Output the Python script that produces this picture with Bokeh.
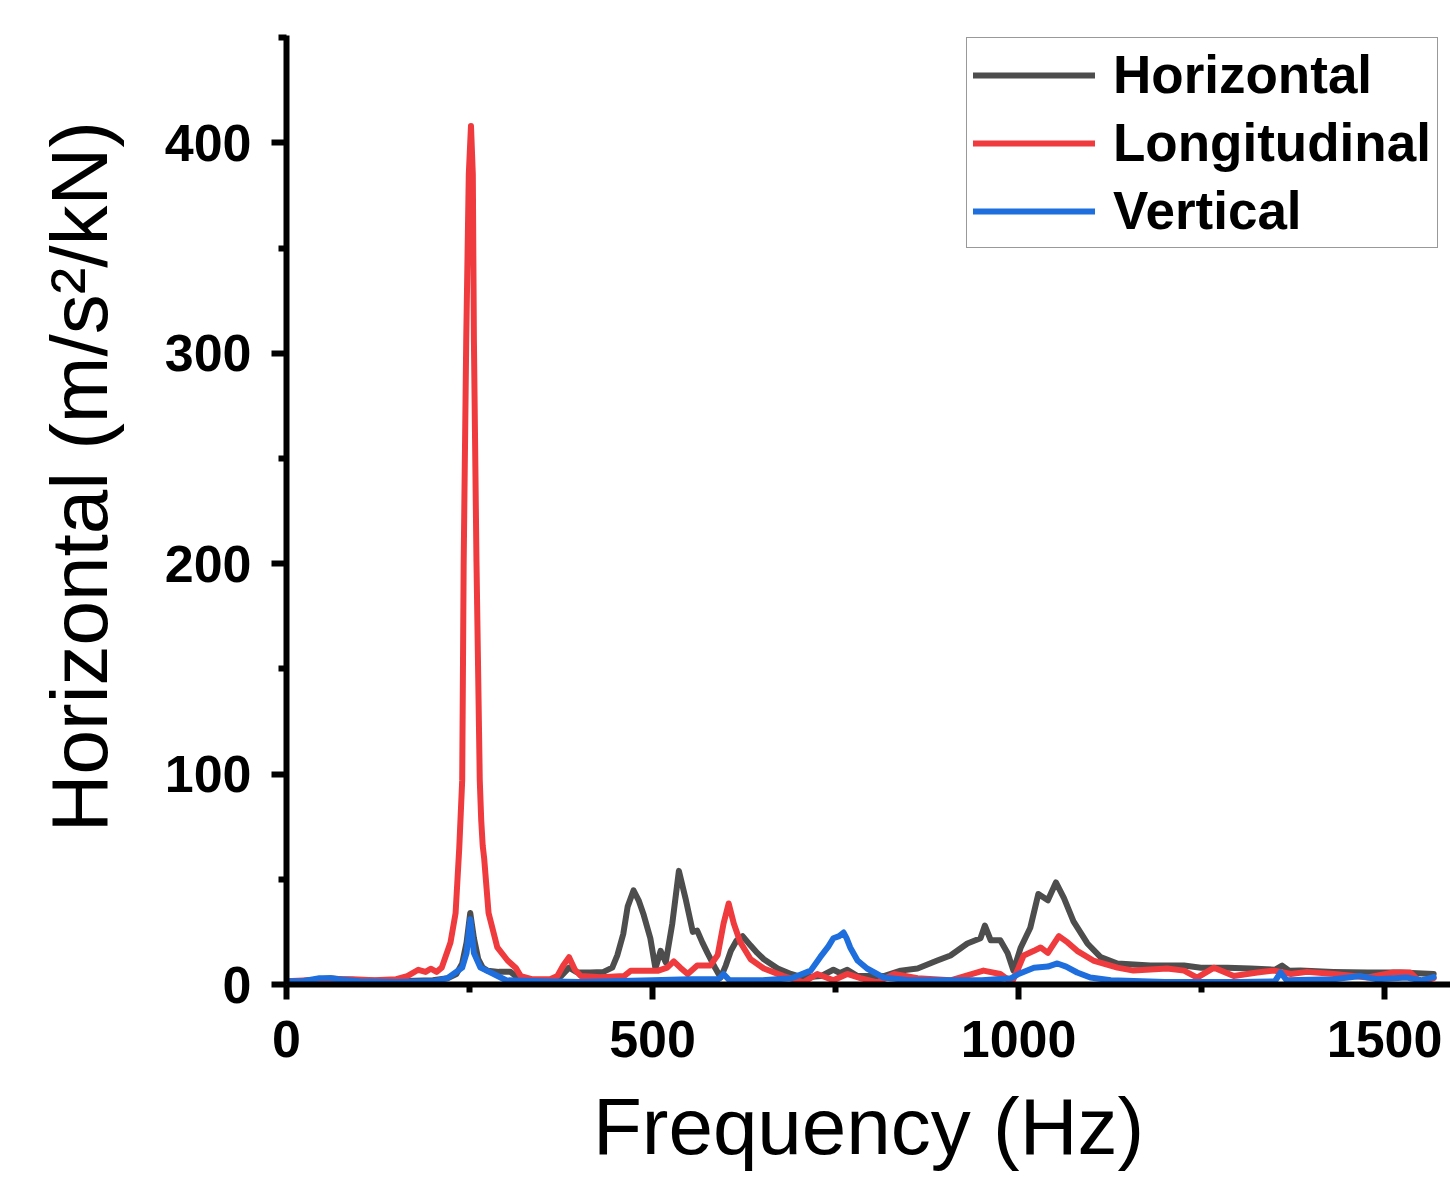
from bokeh.plotting import figure
from bokeh.models import Range1d, FixedTicker
from bokeh.embed import file_html
from bokeh.resources import INLINE

# ---- data ----
horiz_f = [0, 20, 45, 60, 75, 100, 150, 200, 220, 232, 240, 246, 251, 256, 262, 268, 275, 290, 306, 315, 325,
           360, 375, 386, 397, 415, 433, 445, 452, 460, 466, 474, 481, 488, 497, 504, 511, 518, 527, 536, 545,
           555, 561, 568, 575, 586, 593, 600, 607, 615, 623, 634, 643, 652, 671, 689, 706, 730, 747, 756, 766,
           780, 800, 816, 839, 862, 889, 907, 930, 948, 954, 962, 975, 985, 993, 1003, 1016, 1027, 1040, 1051,
           1062, 1075, 1094, 1112, 1135, 1180, 1226, 1249, 1285, 1317, 1350, 1360, 1370, 1385, 1430, 1477,
           1522, 1567]
horiz_v = [1.5, 1.5, 2.5, 3, 2.5, 2, 1.5, 2, 3, 5, 10, 20, 34, 22, 12, 8, 6.5, 6, 6, 3.5, 2,
           2, 4, 8, 5.7, 5.7, 6, 8, 14, 24, 37, 44.7, 40, 33, 22, 7.6, 16, 10.5, 29, 54, 41,
           25, 25.6, 20, 15, 7.6, 3.3, 9, 16, 21, 23, 18.5, 15, 12, 7.6, 5, 3.3, 4, 7, 5.5, 7,
           4, 4, 4, 6.6, 7.6, 11.4, 13.8, 19.5, 22, 28, 21, 21, 15, 6.6, 17.6, 27, 43, 40, 48.5,
           41, 30, 19.5, 13, 10, 9, 9, 8, 8, 7.6, 7, 9, 6.5, 6.6, 6, 5.7,
           5.7, 5]

longi_f = [0, 30, 60, 90, 120, 150, 165, 180, 190, 197, 205, 212, 217, 224, 231, 236, 240, 242, 245.5, 249,
           252, 254.5, 256, 259.5, 264, 266, 268, 270, 276, 288, 302, 313, 320, 335, 360, 370, 378, 386,
           394, 402, 430, 461, 470, 507, 520, 529, 538, 548, 561, 579, 589, 597, 604, 611, 620, 634, 652,
           679, 706, 725, 747, 766, 784, 807, 830, 862, 907, 952, 975, 991, 1000, 1007, 1021, 1030, 1040,
           1055, 1067, 1080, 1102, 1135, 1157, 1203, 1226, 1244, 1267, 1294, 1326, 1349, 1372, 1394, 1431,
           1477, 1512, 1535, 1549, 1567]
longi_v = [1.5, 2, 2.5, 2.5, 2, 2.5, 4, 7, 6, 7.5, 6, 8, 13, 20, 34, 65, 97, 200, 306, 385,
           408, 385, 306, 201, 97, 78, 66, 60, 34, 17.6, 11.4, 8, 4, 2.5, 2.5, 4, 9, 13,
           7, 4, 3.5, 4, 6.5, 6.5, 8, 11, 8, 5, 9, 9, 14, 29, 38.5, 29, 20, 12, 7.6,
           4, 1, 5, 2, 5, 3, 1, 5, 3, 2, 6.6, 5, 1, 8, 13.8, 16, 17.6, 15,
           23, 20, 16, 11.4, 8, 6.6, 7.6, 6.6, 3.3, 8, 4, 5.7, 6.6, 5, 6, 5,
           3.3, 5.7, 5.7, 1, 3]

vert_f = [0, 20, 45, 60, 70, 100, 150, 200, 220, 228, 240, 246, 251, 256, 265, 283, 300, 350, 400, 500,
          550, 590, 597, 605, 650, 690, 716, 729, 740, 747, 755, 761, 765, 770, 780, 793, 816, 850, 900,
          950, 990, 1000, 1021, 1040, 1053, 1065, 1080, 1098, 1126, 1200, 1300, 1350, 1358, 1366, 1430,
          1467, 1490, 1530, 1550, 1567]
vert_v = [1.5, 1.5, 3, 3, 2.5, 1.5, 1.2, 1.5, 3, 5, 8, 15, 31, 15, 8, 5, 2, 1.5, 1.2, 2,
          2.5, 2.5, 5, 2, 2, 3, 6.6, 13, 18, 22, 23, 24.7, 22, 17.6, 11.4, 7.6, 3.3, 2, 2,
          2, 3, 5, 8, 8.5, 10, 8.5, 5.7, 3.3, 2, 1.2, 1.2, 1.5, 5.7, 2, 2.5,
          4, 2.5, 3.3, 2, 3.5]

series_names = ["Horizontal", "Longitudinal", "Vertical"]
series_colors = ["#4d4d4d", "#ef3b3e", "#1e6fdd"]

x_ticks = [0, 500, 1000, 1500]
x_minor = [250, 750, 1250]
y_ticks = [0, 100, 200, 300, 400]
y_minor = [50, 150, 250, 350, 450]

x_title = "Frequency (Hz)"
y_title = "\u00a0\u00a0\u00a0Horizontal (m/s\u00b2/kN)"

# ---- figure ----
p = figure(width=1450, height=1178, output_backend="svg", toolbar_location=None,
           x_range=Range1d(0, 1590), y_range=Range1d(0, 451))
p.min_border_left = 286
p.min_border_right = 0
p.min_border_top = 35
p.min_border_bottom = 194
p.outline_line_color = None
p.xgrid.visible = False
p.ygrid.visible = False
p.background_fill_color = "white"
p.border_fill_color = "white"

for f, v, name, col in zip([horiz_f, longi_f, vert_f], [horiz_v, longi_v, vert_v], series_names, series_colors):
    p.line(f, v, line_color=col, line_width=6, line_join="round", line_cap="round", legend_label=name)

font = "Liberation Sans"
for ax, ticks, minor in [(p.xaxis[0], x_ticks, x_minor), (p.yaxis[0], y_ticks, y_minor)]:
    ax.ticker = FixedTicker(ticks=ticks, minor_ticks=minor)
    ax.axis_line_width = 6
    ax.axis_line_color = "black"
    ax.major_tick_line_width = 6
    ax.major_tick_line_color = "black"
    ax.minor_tick_line_width = 6
    ax.minor_tick_line_color = "black"
    ax.major_tick_in = 0
    ax.major_tick_out = 15
    ax.minor_tick_in = 0
    ax.minor_tick_out = 8
    ax.major_label_text_font = font
    ax.major_label_text_font_style = "bold"
    ax.major_label_text_font_size = "52px"
    ax.major_label_text_color = "black"
    ax.axis_label_text_font = font
    ax.axis_label_text_font_style = "normal"
    ax.axis_label_text_font_size = "80px"
    ax.axis_label_text_color = "black"

p.xaxis[0].major_label_standoff = 21
p.yaxis[0].major_label_standoff = 20
p.xaxis[0].axis_label = x_title
p.yaxis[0].axis_label = y_title
p.xaxis[0].axis_label_standoff = 22
p.yaxis[0].axis_label_standoff = 38

lg = p.legend[0]
lg.location = (680, 736)
lg.margin = 0
lg.padding = 6
lg.spacing = 7
lg.glyph_width = 122
lg.glyph_height = 60
lg.label_height = 60
lg.label_standoff = 18
lg.label_text_font = font
lg.label_text_font_style = "bold"
lg.label_text_font_size = "53px"
lg.label_text_color = "black"
lg.border_line_color = "#333333"
lg.border_line_width = 1.5
lg.background_fill_color = "white"
lg.background_fill_alpha = 1.0

open("out.html", "w").write(file_html(p, INLINE))
